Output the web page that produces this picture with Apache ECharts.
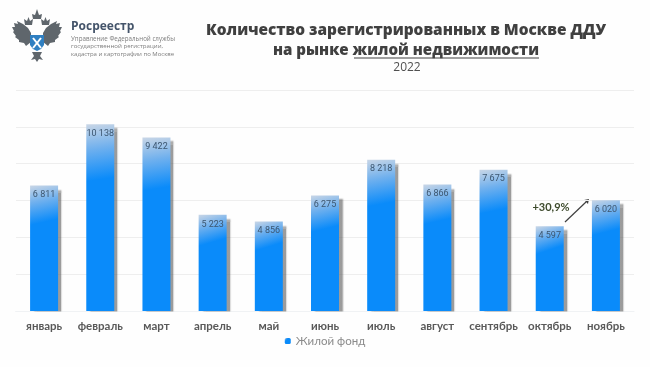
<!DOCTYPE html>
<html><head><meta charset="utf-8">
<style>html,body{margin:0;padding:0;background:#fff}#c{width:650px;height:367px}</style>
<script src="https://cdn.jsdelivr.net/npm/echarts@6/dist/echarts.min.js"></script>
</head><body><div id="c"></div>
<script>
const months = ['январь','февраль','март','апрель','май','июнь','июль','август','сентябрь','октябрь','ноябрь'];
const housing = [6811,10138,9422,5223,4856,6275,8218,6866,7675,4597,6020];
const seriesName = 'Жилой фонд';
const yTicks = {min:0,max:12000,interval:2000};

const fmt = v => String(v).replace(/\B(?=(\d{3})+$)/g,' ');
const chart = echarts.init(document.getElementById('c'),null,{renderer:'canvas'});
const T = (x,y,text,font,fill,align) => ({type:'text',x,y,style:{text,font,fill,align:align||'left',verticalAlign:'middle'}});
const POLY = (pts,fill,mirror) => ({type:'polygon',shape:{points:mirror?pts.map(p=>[74-p[0],p[1]]):pts},style:{fill}});
const wingPts = [[31,33],[28,28],[23,24],[17,21],[18,24],[14,23],[15,27],[12,27],[14,31],[13,32],[16,36],[15,37],[19,40],[19,42],[24,43],[26,46],[31,42]];
const shieldPts = [[30,35],[44,35],[44,45],[41,49],[37,51],[33,49],[30,45]];
const tailPts = [[32,52],[42,52],[40,56],[43,60],[39,59],[37,62],[35,59],[31,60],[34,56]];
const crownPts = [[25,25],[24,19],[27,21],[28.5,17],[30,21],[33,19],[32,25]];
const topCrownPts = [[33,19],[32,14],[35,15],[37,9],[39,15],[42,14],[41,19]];
const GR = '#5f666c';
chart.setOption({
  animation:false,
  backgroundColor:'#fefefe',
  grid:{left:16,right:16,top:90,bottom:56},
  legend:{data:[seriesName],bottom:15,left:'center',itemWidth:6,itemHeight:6,icon:'roundRect',itemGap:3,
    textStyle:{fontFamily:'Lato',fontSize:11.5,color:'#8a8a8a'}},
  xAxis:{type:'category',data:months,axisTick:{show:false},
    axisLine:{lineStyle:{color:'#e3e6ea'}},
    axisLabel:{interval:0,margin:9,fontFamily:'Lato',fontWeight:'bold',fontSize:11.5,color:'#595959'}},
  yAxis:{type:'value',min:yTicks.min,max:yTicks.max,interval:yTicks.interval,
    axisLabel:{show:false},axisLine:{show:false},axisTick:{show:false},
    splitLine:{lineStyle:{color:'#eeeeee'}}},
  series:[{type:'bar',name:seriesName,data:housing,barWidth:28,
    itemStyle:{color:new echarts.graphic.LinearGradient(0,0,0.3,0.3,[
        {offset:0,color:'#c9d6e6'},{offset:0.45,color:'#6fb0ee'},{offset:1,color:'#0a8bfa'}],false),
      shadowColor:'rgba(90,90,90,0.6)',shadowBlur:1.5,shadowOffsetX:4,shadowOffsetY:4},
    label:{show:true,position:'insideTop',distance:5,formatter:p=>fmt(p.value),
      fontFamily:'Roboto',fontSize:9,color:'#3c5670'}}],
  graphic:[
    {type:'rect',z:5,shape:{x:16,y:311.6,width:624,height:6},style:{fill:'#fefefe'}},
    POLY(wingPts,GR),POLY(wingPts,GR,true),
    POLY(crownPts,GR),POLY(crownPts,GR,true),POLY(topCrownPts,GR),
    POLY(tailPts,GR),
    POLY(shieldPts,'#2f7fc1'),
    {type:'line',shape:{x1:33,y1:38,x2:41,y2:48},style:{stroke:'#fff',lineWidth:2}},
    {type:'line',shape:{x1:41,y1:38,x2:33,y2:48},style:{stroke:'#fff',lineWidth:2}},
    T(71,27,'Росреестр','bold 12px "Open Sans"','#44546a'),
    T(71,39,'Управление Федеральной службы','6.2px "Open Sans"','#7d7d7d'),
    T(71,46,'государственной регистрации,','6.1px "Open Sans"','#7d7d7d'),
    T(71,54,'кадастра и картографии по Москве','6px "Open Sans"','#7d7d7d'),
    T(406,31,'Количество зарегистрированных в Москве ДДУ','800 15.4px "Open Sans"','#404040','center'),
    T(406,51,'на рынке жилой недвижимости','800 15.1px "Open Sans"','#404040','center'),
    {type:'line',shape:{x1:354,y1:58,x2:539,y2:58},style:{stroke:'#404040',lineWidth:1}},
    T(407,68,'2022','12px "Open Sans"','#505050','center'),
    T(551,207,'+30,9%','bold 11px "Lato"','#3d4a2c','center'),
    {type:'line',shape:{x1:565,y1:222,x2:586,y2:202},style:{stroke:'#3f3f3f',lineWidth:1.2}},
    {type:'polygon',shape:{points:[[589,199],[584,200],[588,204]]},style:{fill:'#3f3f3f'}}
  ]
});
</script></body></html>
